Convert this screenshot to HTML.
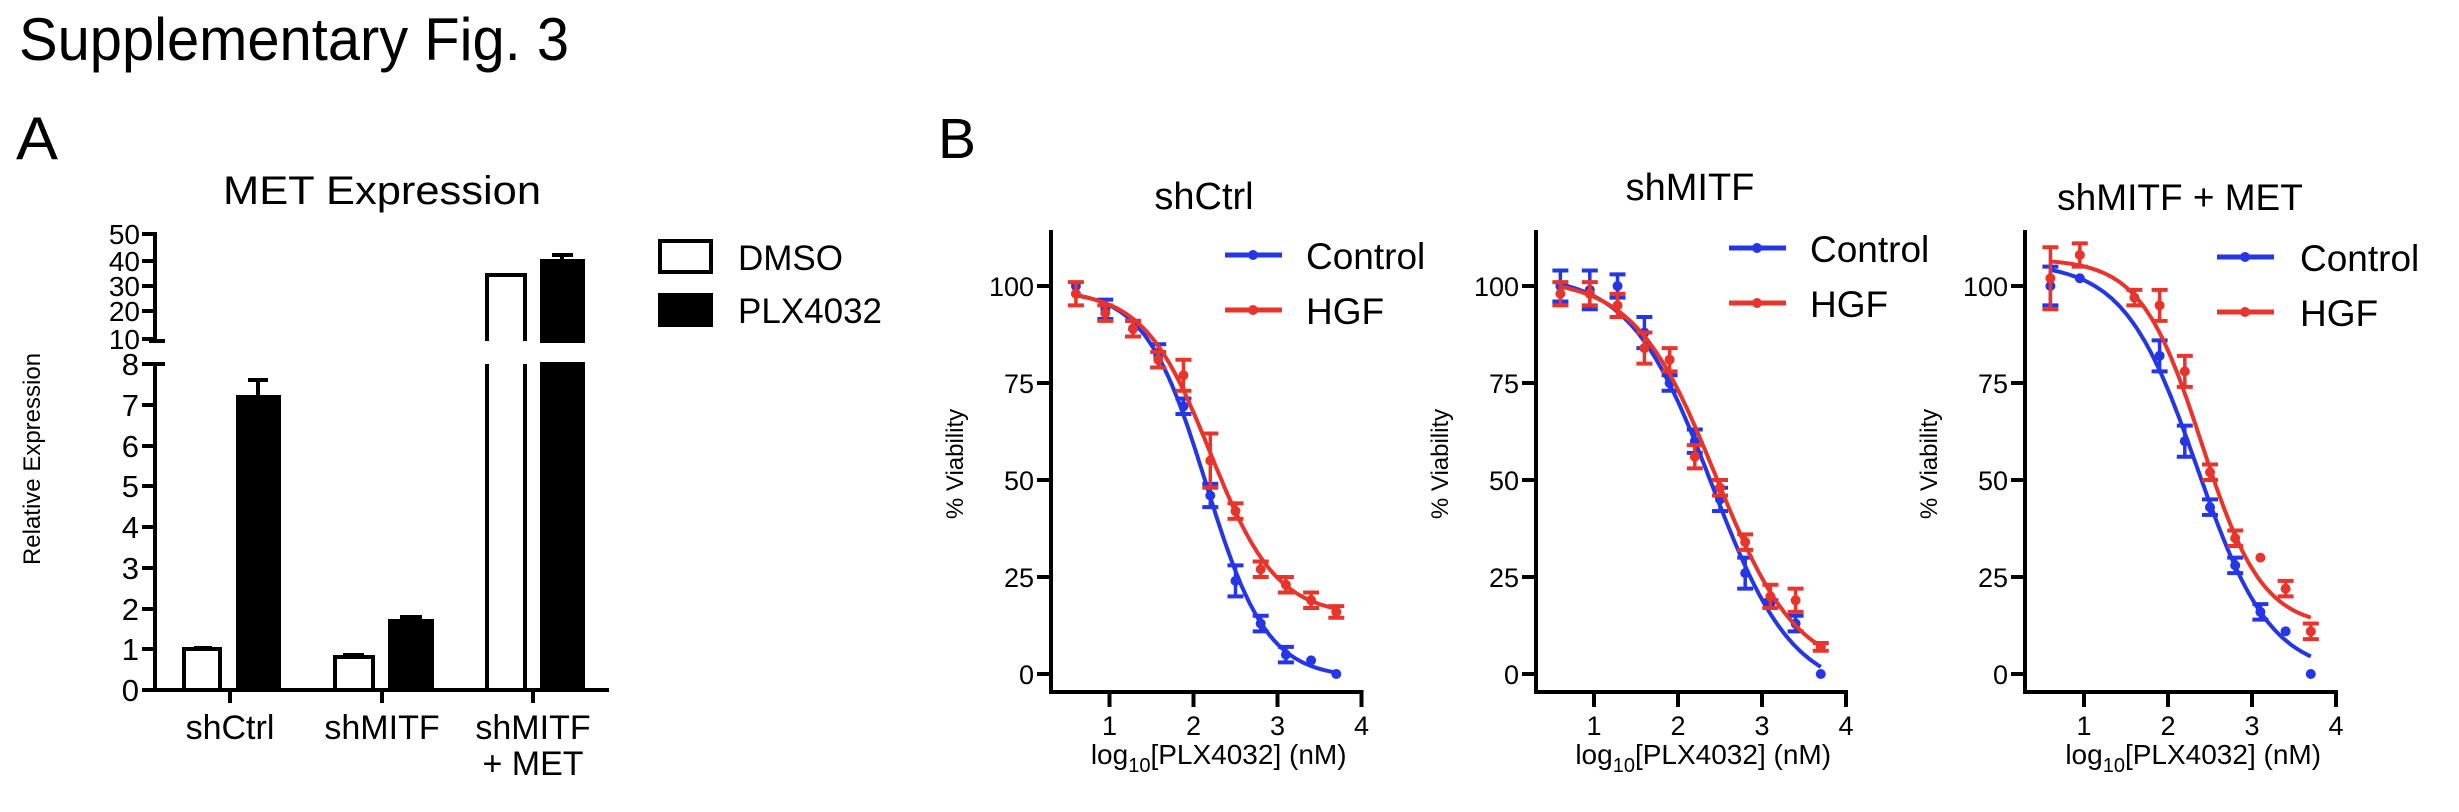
<!DOCTYPE html>
<html><head><meta charset="utf-8"><style>
html,body{margin:0;padding:0;background:#fff;}
svg{display:block;font-family:"Liberation Sans",Arial,sans-serif;}
</style></head><body>
<svg id="s" width="2459" height="812" viewBox="0 0 2459 812" xmlns="http://www.w3.org/2000/svg">
<rect width="2459" height="812" fill="#fff"/>
<text x="19" y="60" font-size="60" fill="#000" textLength="550" lengthAdjust="spacingAndGlyphs">Supplementary Fig. 3</text>
<text x="16" y="159" font-size="60" fill="#000" textLength="42" lengthAdjust="spacingAndGlyphs">A</text>
<text x="938" y="158" font-size="57" fill="#000" textLength="38" lengthAdjust="spacingAndGlyphs">B</text>

<!-- Panel A -->
<text x="223" y="204" font-size="40" textLength="318" lengthAdjust="spacingAndGlyphs">MET Expression</text>
<g stroke="#000" stroke-width="4" fill="none">
<line x1="155" y1="232" x2="155" y2="341"/>
<line x1="155" y1="364" x2="155" y2="692"/>
<line x1="153" y1="690" x2="609" y2="690"/>
<line x1="149" y1="341" x2="165" y2="341"/>
<line x1="149" y1="364" x2="165" y2="364"/>
</g>
<g stroke="#000" stroke-width="4">
<line x1="142" y1="234" x2="155" y2="234"/><line x1="142" y1="261" x2="155" y2="261"/>
<line x1="142" y1="286" x2="155" y2="286"/><line x1="142" y1="311" x2="155" y2="311"/>
<line x1="142" y1="339" x2="155" y2="339"/>
<line x1="142" y1="364" x2="155" y2="364"/><line x1="142" y1="405" x2="155" y2="405"/>
<line x1="142" y1="446" x2="155" y2="446"/><line x1="142" y1="486" x2="155" y2="486"/>
<line x1="142" y1="527" x2="155" y2="527"/><line x1="142" y1="568" x2="155" y2="568"/>
<line x1="142" y1="609" x2="155" y2="609"/><line x1="142" y1="649" x2="155" y2="649"/>
<line x1="142" y1="690" x2="155" y2="690"/>
<line x1="230" y1="690" x2="230" y2="703"/><line x1="382" y1="690" x2="382" y2="703"/><line x1="533" y1="690" x2="533" y2="703"/>
</g>
<g font-size="28" text-anchor="end">
<text x="140" y="244">50</text><text x="140" y="271">40</text><text x="140" y="296">30</text><text x="140" y="321">20</text><text x="140" y="349">10</text>
</g>
<g font-size="31" text-anchor="end">
<text x="139" y="375">8</text><text x="139" y="416">7</text><text x="139" y="457">6</text><text x="139" y="497">5</text>
<text x="139" y="538">4</text><text x="139" y="579">3</text><text x="139" y="620">2</text><text x="139" y="660">1</text><text x="139" y="701">0</text>
</g>
<text transform="translate(40,459) rotate(-90)" font-size="24" text-anchor="middle">Relative Expression</text>
<!-- bars -->
<g stroke="#000" stroke-width="4">
<rect x="184" y="649" width="36" height="41" fill="#fff"/>
<line x1="194" y1="648" x2="212" y2="648"/>
<rect x="238" y="397" width="41" height="293" fill="#000"/>
<line x1="258" y1="397" x2="258" y2="380"/><line x1="248" y1="380" x2="268" y2="380"/>
<rect x="335" y="657" width="38" height="33" fill="#fff"/>
<line x1="343" y1="655" x2="364" y2="655"/>
<rect x="390" y="621" width="42" height="69" fill="#000"/>
<line x1="400" y1="617" x2="422" y2="617"/>
<path d="M487,341 V275 H525 V341 M487,364 V690 M525,364 V690" fill="none"/>
<rect x="542" y="261" width="41" height="80" fill="#000"/>
<rect x="542" y="364" width="41" height="326" fill="#000"/>
<line x1="562" y1="261" x2="562" y2="255"/><line x1="552" y1="255" x2="573" y2="255"/>
</g>
<g font-size="34" text-anchor="middle">
<text x="230" y="739">shCtrl</text><text x="382" y="739">shMITF</text><text x="533" y="739">shMITF</text><text x="533" y="775">+ MET</text>
</g>
<rect x="660" y="241" width="51" height="31" fill="#fff" stroke="#000" stroke-width="4"/>
<rect x="658" y="293" width="55" height="34" fill="#000"/>
<text x="738" y="270" font-size="35">DMSO</text>
<text x="738" y="323" font-size="35">PLX4032</text>

<g id="plots"></g>
</svg>
<script>
var NS="http://www.w3.org/2000/svg";
var g=document.getElementById("plots");
function el(t,a,txt){var e=document.createElementNS(NS,t);for(var k in a)e.setAttribute(k,a[k]);if(txt!=null)e.textContent=txt;g.appendChild(e);return e;}
var B="#2536e6",R="#e8342a";
var plots=[
 {ax:1051,x0:1025.5,title:"shCtrl",tx:1204,ty:209,leg:[1225,1306],legy:[255,310],
  c:{p:[99,-1,2.15,1.2],pts:[[0.6,100,0],[0.95,94,2.5],[1.28,89,2],[1.58,82,3],[1.88,69,2],[2.2,46,3],[2.5,24,4],[2.8,13,2],[3.1,5,2],[3.4,3.5,0],[3.7,0,0]]},
  h:{p:[99,15,2.2,1.1],pts:[[0.6,98,3],[0.95,93,2],[1.28,89,2],[1.58,81,2],[1.88,77,4],[2.2,55,7],[2.5,42,2],[2.8,27,2],[3.1,23,2],[3.4,19,2],[3.7,16,1.5]]}},
 {ax:1536,x0:1510,title:"shMITF",tx:1690,ty:200,leg:[1729,1810],legy:[248,303],
  c:{p:[103,-5,2.4,0.9],pts:[[0.6,100,4],[0.95,99,5],[1.28,100,3],[1.6,88,4],[1.9,75,2],[2.2,60,3],[2.5,45,3],[2.8,26,4],[3.1,18,1],[3.4,13,2],[3.7,0,0]]},
  h:{p:[102,0,2.45,0.9],pts:[[0.6,98,3],[0.95,98,3],[1.28,95,3],[1.6,84,4],[1.9,81,3],[2.2,56,3],[2.5,48,2],[2.8,34,2],[3.1,20,3],[3.4,19,3],[3.7,7,1]]}},
 {ax:2025,x0:2000,title:"shMITF + MET",tx:2180,ty:210,leg:[2217,2300],legy:[257,312],
  c:{p:[106,0,2.35,1.0],pts:[[0.6,100,5],[0.95,102,0],[1.9,82,4],[2.2,60,4],[2.5,43,2],[2.8,28,2],[3.1,16,2],[3.4,11,0],[3.7,0,0]]},
  h:{p:[107,12,2.4,1.2],pts:[[0.6,102,8],[0.95,108,3],[1.6,97,2],[1.9,95,4],[2.2,78,4],[2.5,52,2],[2.8,35,2],[3.1,30,0],[3.4,22,2],[3.7,11,2]]}}
];
plots.forEach(function(P,i){
 var X=function(v){return P.x0+84*v;}, Y=function(v){return 674-3.88*v;};
 el("line",{x1:P.ax,y1:230,x2:P.ax,y2:694,stroke:"#000","stroke-width":4});
 el("line",{x1:P.ax-2,y1:692,x2:P.x0+336+2,y2:692,stroke:"#000","stroke-width":4});
 [0,25,50,75,100].forEach(function(v){
  el("line",{x1:P.ax-14,y1:Y(v),x2:P.ax,y2:Y(v),stroke:"#000","stroke-width":4});
  el("text",{x:P.ax-17,y:Y(v)+10,"font-size":27,"text-anchor":"end"},String(v));
 });
 [1,2,3,4].forEach(function(v){
  el("line",{x1:X(v),y1:692,x2:X(v),y2:707,stroke:"#000","stroke-width":4});
  el("text",{x:X(v),y:735,"font-size":27,"text-anchor":"middle"},String(v));
 });
 var xl=el("text",{x:X(2.3),y:764,"font-size":28,"text-anchor":"middle"});
 xl.innerHTML='log<tspan font-size="20" dy="8">10</tspan><tspan dy="-8">[PLX4032] (nM)</tspan>';
 el("text",{transform:"translate("+(P.ax-88)+",464) rotate(-90)","font-size":24,"text-anchor":"middle"},"% Viability");
 el("text",{x:P.tx,y:P.ty,"font-size":i==2?37:38,"text-anchor":"middle"},P.title);
 [[P.c,B,0],[P.h,R,1]].forEach(function(S){
  var s=S[0],col=S[1],p=s.p,d="";
  for(var x=0.6;x<=3.701;x+=0.02){var y=p[1]+(p[0]-p[1])/(1+Math.pow(10,(x-p[2])*p[3]));d+=(d?"L":"M")+X(x).toFixed(1)+","+Y(y).toFixed(1);}
  el("path",{d:d,fill:"none",stroke:col,"stroke-width":4});
  s.pts.forEach(function(q){
   var cx=X(q[0]),cy=Y(q[1]);
   if(q[2]>0){var e=q[2]*3.88;
    el("line",{x1:cx,y1:cy-e,x2:cx,y2:cy+e,stroke:col,"stroke-width":3.5});
    el("line",{x1:cx-8,y1:cy-e,x2:cx+8,y2:cy-e,stroke:col,"stroke-width":4});
    el("line",{x1:cx-8,y1:cy+e,x2:cx+8,y2:cy+e,stroke:col,"stroke-width":4});}
   el("circle",{cx:cx,cy:cy,r:5,fill:col});
  });
  var ly=P.legy[S[2]];
  el("line",{x1:P.leg[0],y1:ly,x2:P.leg[0]+57,y2:ly,stroke:col,"stroke-width":5});
  el("circle",{cx:P.leg[0]+28,cy:ly,r:5,fill:col});
 });
 el("text",{x:P.leg[1],y:P.legy[0]+14,"font-size":37},"Control");
 el("text",{x:P.leg[1],y:P.legy[1]+14,"font-size":37},"HGF");
});
</script>
</body></html>
